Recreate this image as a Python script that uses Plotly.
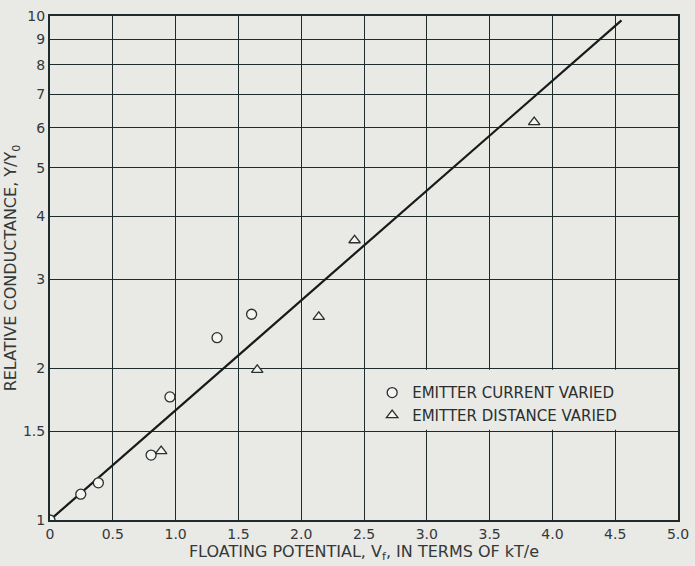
import plotly.graph_objects as go
import math

# Data
current_x = [0.0, 0.245, 0.385, 0.805, 0.955, 1.33, 1.605]
current_y = [1.0, 1.125, 1.185, 1.345, 1.755, 2.30, 2.56]

distance_x = [0.885, 1.65, 2.14, 2.425, 3.855]
distance_y = [1.37, 1.985, 2.53, 3.59, 6.16]

fit_x = [0.0, 4.55]
fit_y = [1.0, 9.8]

x_ticks = [0, 0.5, 1.0, 1.5, 2.0, 2.5, 3.0, 3.5, 4.0, 4.5, 5.0]
x_tick_text = ["0", "0.5", "1.0", "1.5", "2.0", "2.5", "3.0", "3.5", "4.0", "4.5", "5.0"]
y_ticks = [1, 1.5, 2, 3, 4, 5, 6, 7, 8, 9, 10]
y_tick_text = ["1", "1.5", "2", "3", "4", "5", "6", "7", "8", "9", "10"]

paper = "#e9e9e6"
ink = "#1f2a2a"
textc = "#333838"
font = "DejaVu Sans"

fig = go.Figure()
fig.add_trace(go.Scatter(x=fit_x, y=fit_y, mode="lines",
                         line=dict(color="#151a1a", width=2.2),
                         showlegend=False, hoverinfo="skip"))
fig.add_trace(go.Scatter(x=current_x, y=current_y, mode="markers",
                         name="EMITTER CURRENT VARIED",
                         marker=dict(symbol="circle", size=10, color="#f4f4f2",
                                     line=dict(color="#2a2f2f", width=1.3))))
fig.add_trace(go.Scatter(x=distance_x, y=distance_y, mode="markers",
                         name="EMITTER DISTANCE VARIED",
                         marker=dict(symbol="triangle-up", size=10, color="#f4f4f2",
                                     line=dict(color="#2a2f2f", width=1.3))))

# legend box covering grid cell
ly0 = math.log10(1.5)
ly1 = math.log10(2)
fig.add_shape(type="rect", xref="paper", yref="paper",
              x0=0.5 + 0.003, x1=0.997, y0=ly0 + 0.003, y1=ly1 - 0.003,
              fillcolor=paper, line=dict(width=0), layer="above")

fig.update_layout(
    width=695, height=566,
    margin=dict(l=50, r=17, t=16, b=46, autoexpand=False),
    paper_bgcolor=paper, plot_bgcolor=paper,
    font=dict(family=font, color=textc, size=14),
    legend=dict(x=0.513, y=0.285, xanchor="left", yanchor="top",
                bgcolor="rgba(0,0,0,0)", font=dict(size=15, family=font, color="#2a2f2f"),
                itemwidth=30, tracegroupgap=0),
    xaxis=dict(range=[0, 5], tickvals=x_ticks, ticktext=x_tick_text,
               showgrid=True, gridcolor=ink, gridwidth=1,
               showline=True, linecolor=ink, linewidth=2, mirror=True,
               zeroline=False, ticks="", ticklen=0, automargin=False,
               tickfont=dict(size=14, color=textc),
               title=dict(text="FLOATING POTENTIAL, V<sub>f</sub>, IN TERMS OF kT/e",
                          font=dict(size=16, color=textc), standoff=3)),
    yaxis=dict(type="log", range=[0, 1], tickvals=y_ticks, ticktext=y_tick_text,
               showgrid=True, gridcolor=ink, gridwidth=1,
               showline=True, linecolor=ink, linewidth=2, mirror=True,
               zeroline=False, ticks="", ticklen=0, automargin=False,
               tickfont=dict(size=14, color=textc),
               title=dict(text="RELATIVE CONDUCTANCE, Y/Y<sub>0</sub>",
                          font=dict(size=16, color=textc), standoff=2)),
)

fig.write_html("out.html")
